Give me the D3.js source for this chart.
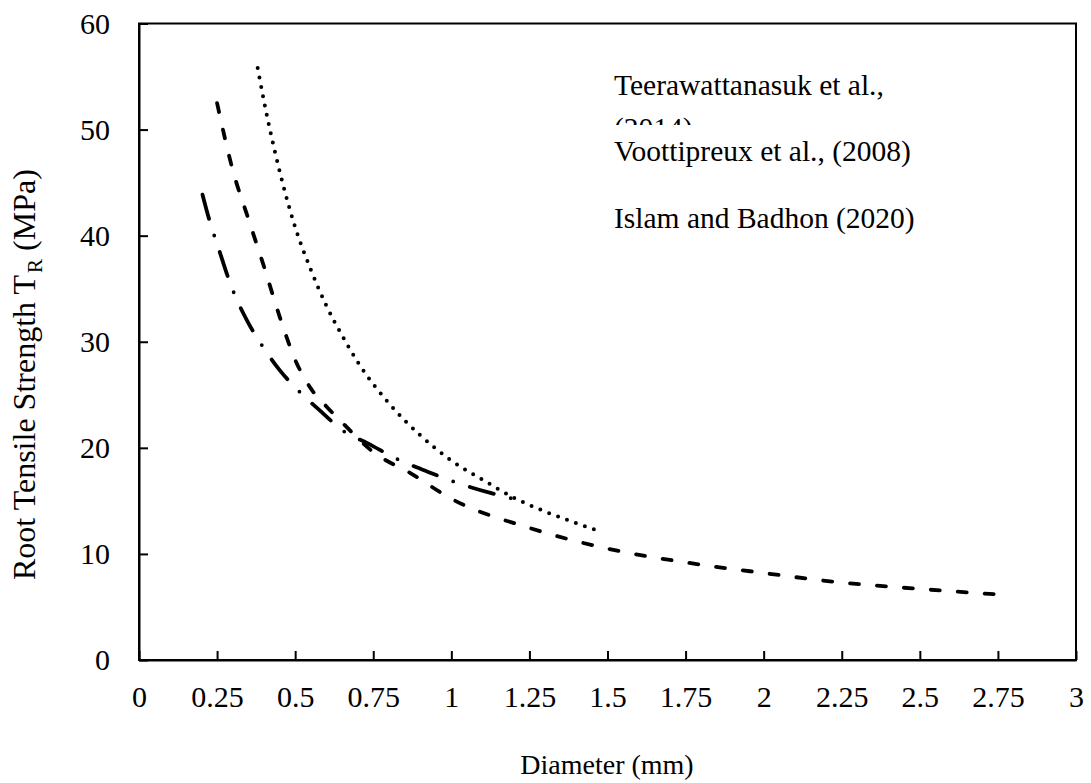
<!DOCTYPE html>
<html>
<head>
<meta charset="utf-8">
<script src="https://cdn.jsdelivr.net/npm/d3@7"></script>
<style>
  html, body { margin: 0; padding: 0; background: #fff; }
  svg { display: block; }
  text { font-family: "Liberation Serif", "Times New Roman", serif; fill: #000; }
</style>
</head>
<body>
<svg id="chart" width="1091" height="783"></svg>
<script>
// ---- data ----
const xTickValues = [0, 0.25, 0.5, 0.75, 1, 1.25, 1.5, 1.75, 2, 2.25, 2.5, 2.75, 3];
const yTickValues = [0, 10, 20, 30, 40, 50, 60];

const seriesNames = ["Teerawattanasuk et al., (2014)", "Voottipreux et al., (2008)", "Islam and Badhon (2020)"];

// Teerawattanasuk et al., (2014) - dotted
const teeraD = [0.38, 0.40, 0.45, 0.50, 0.55, 0.60, 0.65, 0.70, 0.80, 0.90, 1.00, 1.10, 1.20, 1.30, 1.40, 1.48];
const teeraT = [55.8, 52.7, 46.1, 40.8, 36.8, 33.4, 30.6, 28.1, 24.2, 21.2, 18.8, 17.0, 15.3, 14.0, 12.9, 12.1];

// Voottipreux et al., (2008) - dashed
const vootD = [0.25, 0.30, 0.35, 0.40, 0.45, 0.50, 0.55, 0.60, 0.65, 0.75, 0.87, 1.00, 1.25, 1.50, 1.75, 2.00, 2.25, 2.50, 2.74];
const vootT = [52.5, 46.2, 41.6, 37.1, 32.4, 28.3, 25.6, 23.9, 22.4, 19.6, 17.6, 15.2, 12.45, 10.5, 9.2, 8.2, 7.3, 6.7, 6.2];

// Islam and Badhon (2020) - dash-dot
const islamD = [0.197, 0.227, 0.257, 0.286, 0.304, 0.346, 0.395, 0.451, 0.51, 0.576, 0.659, 0.734, 0.816, 0.928, 1.019, 1.131, 1.198];
const islamT = [44.6, 41.3, 38.6, 36.0, 34.6, 32.0, 29.6, 27.3, 25.4, 23.6, 21.5, 20.4, 19.1, 17.7, 16.7, 15.7, 15.2];

// ---- layout ----
const margin = { left: 139, top: 23.5, right: 1091 - 1076, bottom: 783 - 660 };
const W = 1091, H = 783;
const iw = W - margin.left - margin.right;
const ih = H - margin.top - margin.bottom;

const svg = d3.select("#chart");
const g = svg.append("g").attr("transform", `translate(${margin.left},${margin.top})`);

const x = d3.scaleLinear().domain([0, 3]).range([0, iw]);
const y = d3.scaleLinear().domain([0, 60]).range([ih, 0]);

// axes
const xAxis = d3.axisBottom(x).tickValues(xTickValues).tickFormat(d => String(d))
  .tickSizeInner(-9).tickSizeOuter(0).tickPadding(26);
const yAxis = d3.axisLeft(y).tickValues(yTickValues).tickFormat(d => String(d))
  .tickSizeInner(-9).tickSizeOuter(0).tickPadding(29);

const gx = g.append("g").attr("transform", `translate(0,${ih})`).call(xAxis);
const gy = g.append("g").call(yAxis);
[gx, gy].forEach(a => {
  a.selectAll("path.domain").attr("stroke", "#000").attr("stroke-width", 2);
  a.selectAll(".tick line").attr("stroke", "#000").attr("stroke-width", 2);
  a.selectAll(".tick text").style("font-family", '"Liberation Serif", serif').style("font-size", "30px").attr("fill", "#000");
});

// plot box
g.append("rect").attr("x", 0).attr("y", 0).attr("width", iw).attr("height", ih)
  .attr("fill", "none").attr("stroke", "#000").attr("stroke-width", 2);

// lines
const line = d3.line().x(d => x(d[0])).y(d => y(d[1])).curve(d3.curveMonotoneX);
const series = [
  { D: teeraD, T: teeraT, dash: "0 9.5", width: 4, offset: 0 },
  { D: vootD, T: vootT, dash: "9 18", width: 3.8, offset: 0 },
  { D: islamD, T: islamT, dash: "25 17.5 0 17.5", width: 3.8, offset: -8 }
];
series.forEach(s => {
  g.append("path")
    .datum(s.D.map((d, i) => [d, s.T[i]]))
    .attr("d", line)
    .attr("fill", "none")
    .attr("stroke", "#000")
    .attr("stroke-width", s.width)
    .attr("stroke-linecap", "round")
    .attr("stroke-dasharray", s.dash)
    .attr("stroke-dashoffset", s.offset);
});

// legend (text only, first entry clipped like the reference)
const defs = svg.append("defs");
defs.append("clipPath").attr("id", "legclip")
  .append("rect").attr("x", 600).attr("y", 60).attr("width", 400).attr("height", 65);
const leg = svg.append("g").style("font-size", "29.5px");
leg.append("g").attr("clip-path", "url(#legclip)")
  .selectAll("text").data(["Teerawattanasuk et al.,", "(2014)"]).join("text")
  .attr("x", 614).attr("y", (d, i) => 95 + i * 43).text(d => d);
leg.append("text").attr("x", 614).attr("y", 161).text(seriesNames[1]);
leg.append("text").attr("x", 614).attr("y", 228).text(seriesNames[2]);

// axis titles
svg.append("text").attr("x", 607).attr("y", 774).attr("text-anchor", "middle")
  .style("font-size", "28px").text("Diameter (mm)");
const yt = svg.append("text").attr("transform", "translate(35,580) rotate(-90)")
  .attr("text-anchor", "start").style("font-size", "32px");
yt.append("tspan").text("Root Tensile Strength T");
yt.append("tspan").attr("dy", 7).attr("dx", 2).style("font-size", "21px").text("R");
yt.append("tspan").attr("dy", -7).text(" (MPa)");
</script>
</body>
</html>
